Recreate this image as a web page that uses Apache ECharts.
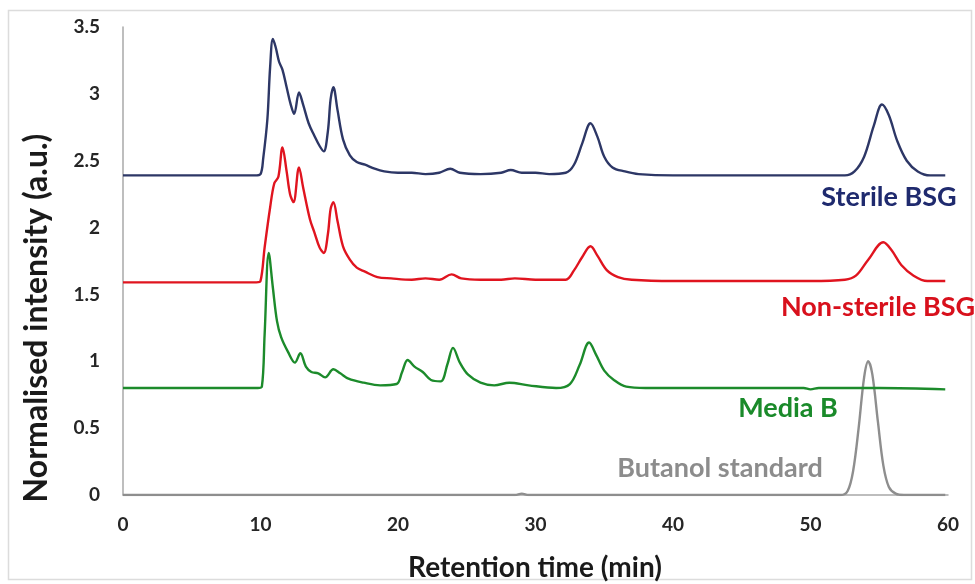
<!DOCTYPE html>
<html>
<head>
<meta charset="utf-8">
<title>Chromatogram overlay</title>
<script src="https://cdn.jsdelivr.net/npm/echarts@6/dist/echarts.min.js"></script>
<style>
  html, body { margin: 0; padding: 0; background: #ffffff; }
  #chart { width: 975px; height: 584px; }
</style>
</head>
<body>
<div id="chart"></div>
<script>
// Retention time (min) / normalised intensity pairs for each trace
const sterileBSG = [
  [0, 2.39], [9.6, 2.39], [10.0, 2.40], [10.2, 2.52], [10.5, 2.81], [10.7, 3.20], [10.9, 3.41],
  [11.1, 3.35], [11.35, 3.24], [11.6, 3.18], [11.9, 3.05], [12.2, 2.92], [12.45, 2.85],
  [12.8, 3.01], [13.1, 2.92], [13.5, 2.78], [13.9, 2.69], [14.3, 2.61], [14.6, 2.57],
  [14.9, 2.72], [15.1, 2.96], [15.3, 3.05], [15.6, 2.88], [16.0, 2.66], [16.5, 2.54],
  [17.0, 2.49], [17.6, 2.47], [18.3, 2.44], [19.0, 2.42], [20.0, 2.41], [21.0, 2.41],
  [22.0, 2.40], [23.0, 2.41], [23.8, 2.44], [24.5, 2.41], [26.0, 2.40], [27.5, 2.41],
  [28.2, 2.43], [29.0, 2.41], [30.0, 2.41], [31.0, 2.40], [32.2, 2.41], [32.8, 2.47],
  [33.4, 2.63], [34.0, 2.78], [34.5, 2.68], [35.0, 2.53], [35.6, 2.45], [36.5, 2.42],
  [37.5, 2.40], [40.0, 2.39], [45.0, 2.39], [50.0, 2.39], [52.5, 2.39], [53.2, 2.42],
  [53.9, 2.53], [54.6, 2.76], [55.2, 2.92], [55.7, 2.84], [56.3, 2.65], [57.0, 2.50],
  [57.8, 2.42], [58.7, 2.39], [59.8, 2.39]
];

const nonSterileBSG = [
  [0, 1.59], [9.7, 1.59], [10.0, 1.60], [10.3, 1.85], [10.7, 2.15], [11.0, 2.33],
  [11.3, 2.38], [11.6, 2.60], [11.9, 2.42], [12.15, 2.25], [12.4, 2.19], [12.8, 2.45],
  [13.1, 2.30], [13.6, 2.06], [13.9, 1.97], [14.3, 1.85], [14.6, 1.81], [14.9, 1.95],
  [15.1, 2.14], [15.3, 2.19], [15.6, 2.05], [16.0, 1.86], [16.5, 1.76], [17.0, 1.70],
  [17.6, 1.67], [18.5, 1.63], [19.5, 1.62], [21.0, 1.61], [22.0, 1.62], [23.0, 1.61],
  [23.9, 1.65], [24.6, 1.62], [26.0, 1.61], [27.5, 1.61], [28.5, 1.62], [30.0, 1.61],
  [32.2, 1.61], [32.8, 1.68], [33.4, 1.78], [34.0, 1.86], [34.5, 1.79], [35.2, 1.68],
  [36.0, 1.63], [37.0, 1.61], [40.0, 1.60], [45.0, 1.60], [50.0, 1.60], [52.5, 1.61],
  [53.3, 1.64], [54.2, 1.76], [55.3, 1.89], [55.9, 1.83], [56.6, 1.72], [57.5, 1.64],
  [58.5, 1.60], [59.8, 1.60]
];

const mediaB = [
  [0, 0.80], [9.8, 0.80], [10.1, 0.81], [10.3, 1.20], [10.6, 1.81], [10.9, 1.55],
  [11.2, 1.30], [11.5, 1.18], [12.0, 1.07], [12.5, 0.99], [12.9, 1.06], [13.3, 0.96],
  [13.7, 0.92], [14.2, 0.91], [14.7, 0.88], [15.3, 0.94], [15.8, 0.91], [16.4, 0.87],
  [17.5, 0.84], [18.7, 0.82], [19.9, 0.83], [20.3, 0.92], [20.7, 1.01], [21.2, 0.96],
  [21.8, 0.92], [22.4, 0.86], [23.1, 0.85], [23.6, 0.98], [24.0, 1.10], [24.5, 0.99],
  [25.1, 0.90], [26.0, 0.84], [27.0, 0.82], [28.1, 0.84], [29.5, 0.82], [31.5, 0.80],
  [32.5, 0.83], [33.2, 0.97], [33.9, 1.14], [34.4, 1.05], [35.0, 0.93], [35.7, 0.86],
  [36.6, 0.81], [38.0, 0.80], [45.0, 0.80], [49.5, 0.80], [50.0, 0.79], [50.6, 0.80],
  [55.0, 0.80], [59.8, 0.79]
];

const butanolStandard = [
  [0, 0], [28.5, 0], [29.0, 0.01], [29.5, 0], [52.2, 0], [52.7, 0.03], [53.1, 0.18],
  [53.5, 0.50], [53.9, 0.88], [54.2, 1.00], [54.5, 0.90], [54.9, 0.55], [55.3, 0.22],
  [55.7, 0.06], [56.2, 0.01], [56.8, 0], [59.8, 0]
];

const xTicks = { min: 0, max: 60, interval: 10 };
const yTicks = { min: 0, max: 3.5, interval: 0.5 };

const traceNames = ['Sterile BSG', 'Non-sterile BSG', 'Media B', 'Butanol standard'];
const traceColors = ['#2d3766', '#e0141f', '#1c8b2b', '#8e8e8e'];
const labelColors = ['#1f2a6e', '#d8101c', '#1a8a2a', '#8c8c8c'];

const FONT = 'Lato, "Open Sans", sans-serif';

function lineSeries(name, data, color) {
  return {
    name: name,
    type: 'line',
    data: data,
    showSymbol: false,
    smooth: 0.35,
    lineStyle: { color: color, width: 2.4, join: 'round' },
    emphasis: { disabled: true },
    silent: true
  };
}

const chart = echarts.init(document.getElementById('chart'), null, { renderer: 'canvas' });

chart.setOption({
  animation: false,
  backgroundColor: '#ffffff',
  grid: { left: 123, right: 27, top: 27, bottom: 89, containLabel: false },
  xAxis: {
    type: 'value',
    min: xTicks.min, max: xTicks.max, interval: xTicks.interval,
    axisLine: { show: true, lineStyle: { color: '#a8a8a8', width: 1.5 } },
    axisTick: { show: false },
    splitLine: { show: false },
    axisLabel: { color: '#262626', fontFamily: FONT, fontWeight: 'bold', fontSize: 19, margin: 20 }
  },
  yAxis: {
    type: 'value',
    min: yTicks.min, max: yTicks.max, interval: yTicks.interval,
    axisLine: { show: true, lineStyle: { color: '#a8a8a8', width: 1.5 } },
    axisTick: { show: false },
    splitLine: { show: false },
    axisLabel: { color: '#262626', fontFamily: FONT, fontWeight: 'bold', fontSize: 19, margin: 23 }
  },
  series: [
    lineSeries(traceNames[3], butanolStandard, traceColors[3]),
    lineSeries(traceNames[2], mediaB, traceColors[2]),
    lineSeries(traceNames[1], nonSterileBSG, traceColors[1]),
    lineSeries(traceNames[0], sterileBSG, traceColors[0])
  ],
  graphic: [
    {
      type: 'rect', silent: true, z: -1,
      shape: { x: 8.5, y: 10.5, width: 963, height: 569 },
      style: { fill: 'none', stroke: '#dcdcdc', lineWidth: 1.5 }
    },
    {
      type: 'text', silent: true, x: 535, y: 568,
      style: { text: 'Retention time (min)', fill: '#1a1a1a', font: 'bold 28px ' + FONT,
               textAlign: 'center', textVerticalAlign: 'middle' }
    },
    {
      type: 'text', silent: true, x: 37, y: 318, rotation: Math.PI / 2,
      style: { text: 'Normalised intensity (a.u.)', fill: '#1a1a1a', font: 'bold 32px ' + FONT,
               textAlign: 'center', textVerticalAlign: 'middle' }
    },
    {
      type: 'text', silent: true, x: 889, y: 197,
      style: { text: traceNames[0], fill: labelColors[0], font: 'bold 27px ' + FONT,
               textAlign: 'center', textVerticalAlign: 'middle' }
    },
    {
      type: 'text', silent: true, x: 878, y: 307,
      style: { text: traceNames[1], fill: labelColors[1], font: 'bold 27px ' + FONT,
               textAlign: 'center', textVerticalAlign: 'middle' }
    },
    {
      type: 'text', silent: true, x: 788, y: 408,
      style: { text: traceNames[2], fill: labelColors[2], font: 'bold 27px ' + FONT,
               textAlign: 'center', textVerticalAlign: 'middle' }
    },
    {
      type: 'text', silent: true, x: 720, y: 468,
      style: { text: traceNames[3], fill: labelColors[3], font: 'bold 27px ' + FONT,
               textAlign: 'center', textVerticalAlign: 'middle' }
    }
  ]
});
</script>
</body>
</html>
